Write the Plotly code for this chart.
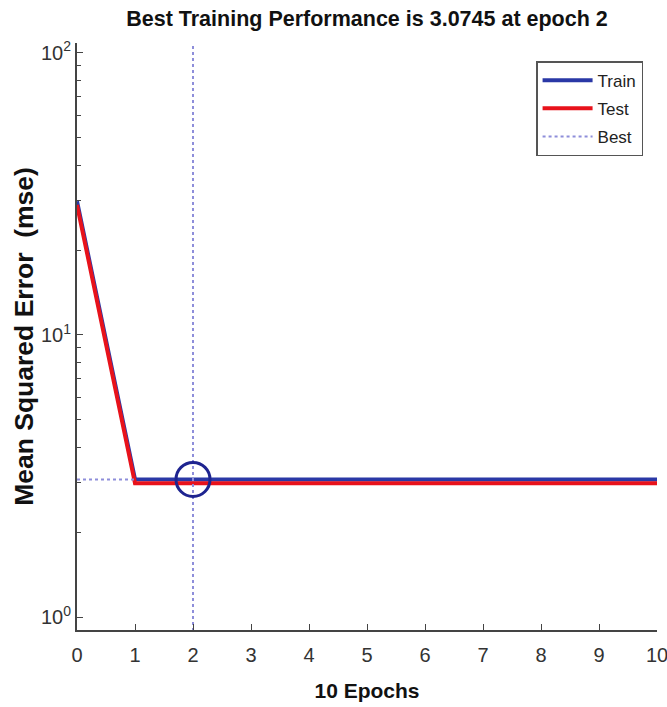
import plotly.graph_objects as go

epochs = [0, 1, 2, 3, 4, 5, 6, 7, 8, 9, 10]
train_mse = [29.8, 3.08, 3.0745, 3.0745, 3.0745, 3.0745, 3.0745, 3.0745, 3.0745, 3.0745, 3.0745]
test_mse = [28.9, 2.98, 2.98, 2.98, 2.98, 2.98, 2.98, 2.98, 2.98, 2.98, 2.98]
best_epoch = 2
best_perf = 3.0745
x_ticks = [0, 1, 2, 3, 4, 5, 6, 7, 8, 9, 10]
y_ticks = [1, 10, 100]
y_ticktext = ["10<sup>0</sup>", "10<sup>1</sup>", "10<sup>2</sup>"]
y_minor = [2, 3, 4, 5, 6, 7, 8, 9, 20, 30, 40, 50, 60, 70, 80, 90]

FONT = "Liberation Sans, Arial, sans-serif"
BEST_COLOR = "#8E8EDA"

fig = go.Figure()
fig.add_trace(go.Scatter(x=epochs, y=train_mse, mode="lines", name="Train", legendgroup="a",
                         line=dict(color="#2A38A6", width=4)))
fig.add_trace(go.Scatter(x=epochs, y=test_mse, mode="lines", name="Test", legendgroup="b",
                         line=dict(color="#E8121B", width=4)))
fig.add_trace(go.Scatter(x=[best_epoch, best_epoch], y=[0.85, 115], mode="lines", name="Best",
                         legendgroup="c",
                         line=dict(color=BEST_COLOR, width=2, dash="dot")))
fig.add_trace(go.Scatter(x=[epochs[0], epochs[1]], y=[best_perf, best_perf], mode="lines",
                         showlegend=False, legendgroup="c",
                         line=dict(color=BEST_COLOR, width=2, dash="dot")))
fig.add_trace(go.Scatter(x=[best_epoch], y=[best_perf], mode="markers", showlegend=False,
                         marker=dict(symbol="circle-open", size=34, color="#1E2490",
                                     line=dict(width=3, color="#1E2490"))))

fig.update_layout(
    width=667, height=707,
    margin=dict(l=77, r=10, t=43, b=77),
    paper_bgcolor="white", plot_bgcolor="white",
    font=dict(family=FONT, color="#333333"),
    title=dict(text="<b>Best Training Performance is 3.0745 at epoch 2</b>",
               x=(77 + 657) / 2 / 667, xanchor="center", y=0.974, yanchor="middle",
               font=dict(size=21.5, color="#111111", family=FONT)),
    showlegend=True,
    legend=dict(x=0.976, xanchor="right", y=0.969, yanchor="top",
                bgcolor="white", bordercolor="#555555", borderwidth=1.5,
                font=dict(size=17, color="#222222", family=FONT),
                traceorder="grouped", tracegroupgap=3, itemwidth=50),
)
fig.update_xaxes(range=[0, 10], tickvals=x_ticks, ticks="inside", ticklen=6,
                 showline=True, linecolor="#444444", linewidth=2, showgrid=False,
                 zeroline=False, automargin=False, tickcolor="#444444",
                 ticklabeloverflow="allow", ticklabelstandoff=6,
                 tickfont=dict(size=20, color="#333333"),
                 title=dict(text="<b>10 Epochs</b>", font=dict(size=21, color="#111111"), standoff=18))
fig.update_yaxes(type="log", range=[-0.046, 2.035], tickvals=y_ticks, ticktext=y_ticktext,
                 ticks="inside", ticklen=6, showline=True, linecolor="#444444", linewidth=2,
                 showgrid=False, zeroline=False, automargin=False, tickcolor="#444444",
                 ticklabeloverflow="allow",
                 tickfont=dict(size=20, color="#333333"),
                 minor=dict(tickvals=y_minor, ticks="inside", ticklen=4, showgrid=False,
                            tickcolor="#444444"),
                 title=dict(text="<b>Mean Squared Error  (mse)</b>", font=dict(size=26.5, color="#111111"),
                            standoff=0))

fig.write_html("out.html")
